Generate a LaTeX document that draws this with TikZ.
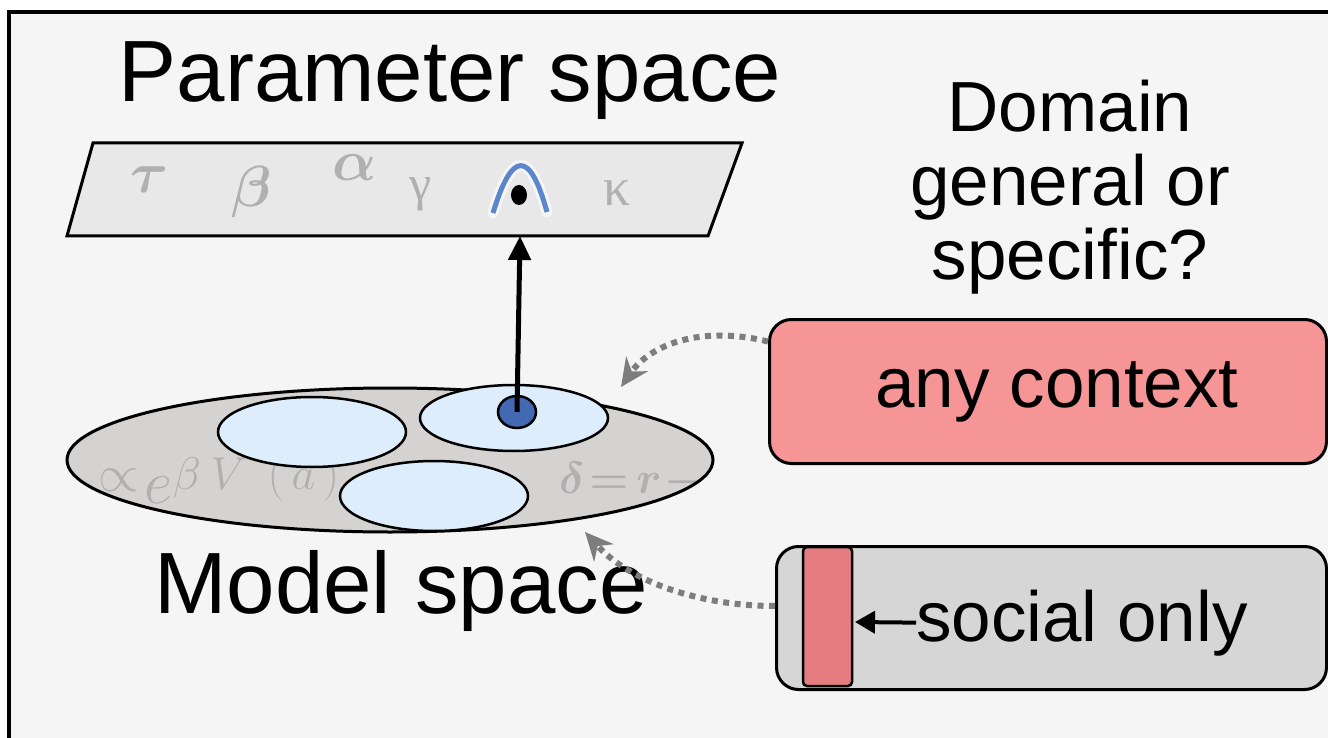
\RequirePackage{fix-cm}
\documentclass[tikz,border=0pt]{standalone}
\usepackage{fontspec}
\usepackage{bm}
\setmainfont{Liberation Sans}
\newfontfamily\greekserif{Liberation Serif}
\usetikzlibrary{arrows.meta,shapes.geometric}

\definecolor{paper}{RGB}{245,245,245}
\definecolor{planefill}{RGB}{232,232,232}
\definecolor{modelfill}{RGB}{213,211,209}
\definecolor{subfill}{RGB}{221,237,251}
\definecolor{dotblue}{RGB}{66,105,178}
\definecolor{curveblue}{RGB}{92,134,204}
\definecolor{ghost}{RGB}{176,176,176}
\definecolor{anyred}{RGB}{246,149,149}
\definecolor{socialgray}{RGB}{214,214,214}
\definecolor{socialred}{RGB}{229,124,127}
\definecolor{hintgray}{RGB}{125,125,125}

\tikzset{
  bigtext/.style={font=\fontsize{87}{87}\selectfont, inner sep=0pt},
  midtext/.style={font=\fontsize{71}{74}\selectfont, inner sep=0pt},
  submodel/.style={draw, line width=2.5pt, fill=subfill},
  ctxbox/.style={draw, line width=3pt, rounded corners=22pt, inner sep=0pt},
  hint/.style={hintgray, line width=6pt, dash pattern=on 6pt off 5.5pt,
    -{Stealth[length=28pt,width=26pt]}},
  ghostsym/.style={ghost, inner sep=0pt, font=\fontsize{58}{58}\selectfont},
}

\begin{document}
\begin{tikzpicture}[x=1pt, y=-1pt]
  \useasboundingbox (0,0) rectangle (1328,738);

  % panel frame, runs off at the right and bottom
  \fill[paper] (9,12) rectangle (1340,760);
  \draw[line width=4.5pt] (9,760) -- (9,12) -- (1340,12);

  % titles
  \node[bigtext, anchor=base] (paramtitle) at (450,102) {Parameter space};
  \node[bigtext, anchor=base] (modeltitle) at (401,613) {Model space};
  \node[midtext, anchor=north, align=center] (question) at (1070,80)
    {Domain\\general or\\specific?};

  % parameter plane
  \draw[line width=3pt, fill=planefill]
    (93,143) -- (742,143) -- (708,236) -- (67,236) -- cycle;
  \coordinate (planetip) at (520,236);
  \node[ghostsym] (tau)   at (150,180) {$\bm{\tau}$};
  \node[ghostsym] (beta)  at (252,192) {$\bm{\beta}$};
  \node[ghostsym] (alpha) at (355,168) {$\bm{\alpha}$};
  \node[ghostsym, font=\greekserif\fontsize{50}{50}\selectfont] (gamma) at (421,194) {γ};
  \node[ghostsym, font=\greekserif\fontsize{54}{54}\selectfont] (kappa) at (617,193) {κ};
  \draw[white, opacity=0.6, line width=11pt, line cap=round]
    (493,213) .. controls (512,150) and (530,150) .. (547,212);
  \draw[curveblue, line width=5pt] (493,213) .. controls (512,150) and (530,150) .. (547,212);
  \fill (519,195) ellipse (8 and 10);

  % model space
  \fill[modelfill] (390,460) ellipse (323 and 72);
  \begin{scope}
    \clip (390,460) ellipse (323 and 72);
    \node[ghost, inner sep=0pt, anchor=base west] (softmax) at (98,503)
      {\raisebox{12pt}{\fontsize{52}{52}\selectfont$\propto$}\hspace{6pt}%
       {\fontsize{62}{62}\selectfont$e$}%
       \raisebox{14pt}{\fontsize{46}{46}\selectfont$\beta\mkern4mu V\mkern8mu(\mkern3mu a\mkern3mu)$}};
    \node[ghost, inner sep=0pt, anchor=base west, font=\fontsize{45}{45}\selectfont]
      (tderr) at (559,493) {$\bm{\delta}\mkern2mu{\bm{=}}\mkern3mu\bm{r}\mkern1mu{\bm{-}}$};
  \end{scope}
  \draw[line width=3pt] (390,460) ellipse (323 and 72);

  \draw[submodel] (312,432) ellipse (94 and 35);
  \draw[submodel] (514,418) ellipse (94 and 33);
  \draw[submodel] (434,496) ellipse (94 and 35);
  \node[ellipse, draw, line width=2.5pt, fill=dotblue, minimum width=38pt,
    minimum height=32pt, inner sep=0pt] (best) at (517,412) {};

  \draw[line width=5pt, -{Triangle[length=24pt,width=22pt]}] (best.center) -- (planetip);

  % context boxes
  \node[ctxbox, fill=anyred, minimum width=557pt, minimum height=144pt,
    anchor=north west, midtext] (anyctx) at (768,318) {\hspace*{18pt}any context};
  \node[ctxbox, fill=socialgray, minimum width=550pt, minimum height=143pt,
    anchor=north west] (social) at (775,545) {};
  \draw[line width=2.5pt, fill=socialred, rounded corners=4pt]
    (803,547) rectangle (852,686);
  \coordinate (strip) at (855,622);
  \node[midtext, anchor=base west] (socialtxt) at (916,641) {social only};
  \draw[line width=4pt, -{Triangle[length=20pt,width=22pt]}] (socialtxt.west) -- (strip);

  % where each context lands in model space
  \coordinate (anytip) at (621,387);
  \coordinate (socialtip) at (585,532);
  \draw[hint] ([yshift=50pt]anyctx.west) .. controls (700,325) and (650,345) .. (anytip);
  \draw[hint] ([yshift=12pt]social.west) .. controls (700,606) and (630,582) .. (socialtip);
\end{tikzpicture}
\end{document}
